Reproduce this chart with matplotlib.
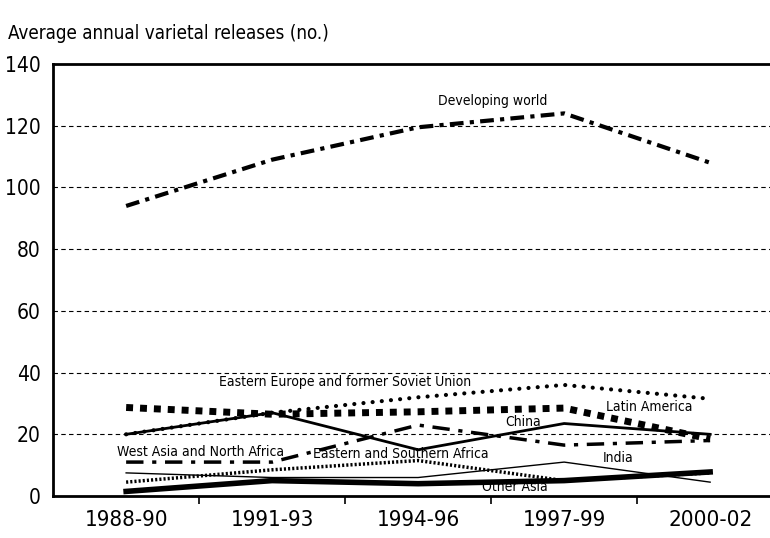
import matplotlib
matplotlib.use("Agg")
import matplotlib.pyplot as plt
import numpy as np

plt.rcParams["font.family"] = ["DejaVu Sans"]
plt.rcParams["font.stretch"] = "condensed"

periods = ["1988-90", "1991-93", "1994-96", "1997-99", "2000-02"]

developing_world = [94, 109, 119.5, 124, 108]
eastern_europe_fsu = [20, 27, 32, 36, 31.5]
latin_america = [28.7, 26.5, 27.3, 28.5, 18.5]
china = [20, 27, 15, 23.5, 20]
west_asia_n_africa = [11, 11, 23, 16.5, 18]
east_south_africa = [4.5, 8.5, 11.5, 5, 7.5]
india = [7.5, 6, 6, 11, 4.5]
other_asia = [1.5, 5, 4, 5, 7.8]

x = np.arange(len(periods))

fig = plt.figure(figsize=(7.7, 5.38), dpi=100)
ax = fig.add_axes([0.069, 0.078, 0.931, 0.803])

# grid
for g in range(20, 140, 20):
    ax.axhline(g, color="black", lw=0.8, ls=(0, (4, 3)), zorder=1)

ax.plot(x, developing_world, color="black", lw=3, dashes=(3.3, 1.5, 1.0, 1.5), zorder=3)
ax.plot(x, latin_america, color="black", lw=5, dashes=(1.0, 1.0), zorder=3)
ax.plot(x, eastern_europe_fsu, color="black", lw=3, dashes=(0.01, 2.2),
        dash_capstyle="round", zorder=3)
ax.plot(x, china, color="black", lw=2, zorder=3)
ax.plot(x, west_asia_n_africa, color="black", lw=2.5, dashes=(5, 2.5, 1.2, 2.5), zorder=3)
ax.plot(x, east_south_africa, color="black", lw=2.5, dashes=(0.6, 0.6), zorder=3)
ax.plot(x, india, color="black", lw=1, zorder=3)
ax.plot(x, other_asia, color="black", lw=4, zorder=3)

fs = 10
ax.text(2.51, 128, "Developing world", ha="center", va="center", fontsize=fs)
ax.text(1.5, 36.9, "Eastern Europe and former Soviet Union", ha="center", va="center", fontsize=fs)
ax.text(3.58, 28.8, "Latin America", ha="center", va="center", fontsize=fs)
ax.text(2.72, 24, "China", ha="center", va="center", fontsize=fs)
ax.text(0.51, 14.2, "West Asia and North Africa", ha="center", va="center", fontsize=fs)
ax.text(1.88, 13.6, "Eastern and Southern Africa", ha="center", va="center", fontsize=fs)
ax.text(3.37, 12.3, "India", ha="center", va="center", fontsize=fs)
ax.text(2.66, 2.9, "Other Asia", ha="center", va="center", fontsize=fs)

ax.set_xlim(-0.5, 4.41)
ax.set_ylim(0, 140)
ax.set_yticks(range(0, 141, 20))
ax.tick_params(axis="y", length=0, labelsize=15, pad=9)
ax.set_xticks(x)
ax.set_xticklabels(periods, fontsize=16)
ax.tick_params(axis="x", length=0, pad=10)
ax.set_xticks([0.5, 1.5, 2.5, 3.5], minor=True)
ax.tick_params(axis="x", which="minor", length=6, width=1.2, direction="out")

for side in ["left", "bottom", "top"]:
    ax.spines[side].set_linewidth(2)
ax.spines["right"].set_visible(False)

fig.text(0.01, 0.938, "Average annual varietal releases (no.)", fontsize=13.5, ha="left", va="center")

fig.savefig("out.png", dpi=100)
